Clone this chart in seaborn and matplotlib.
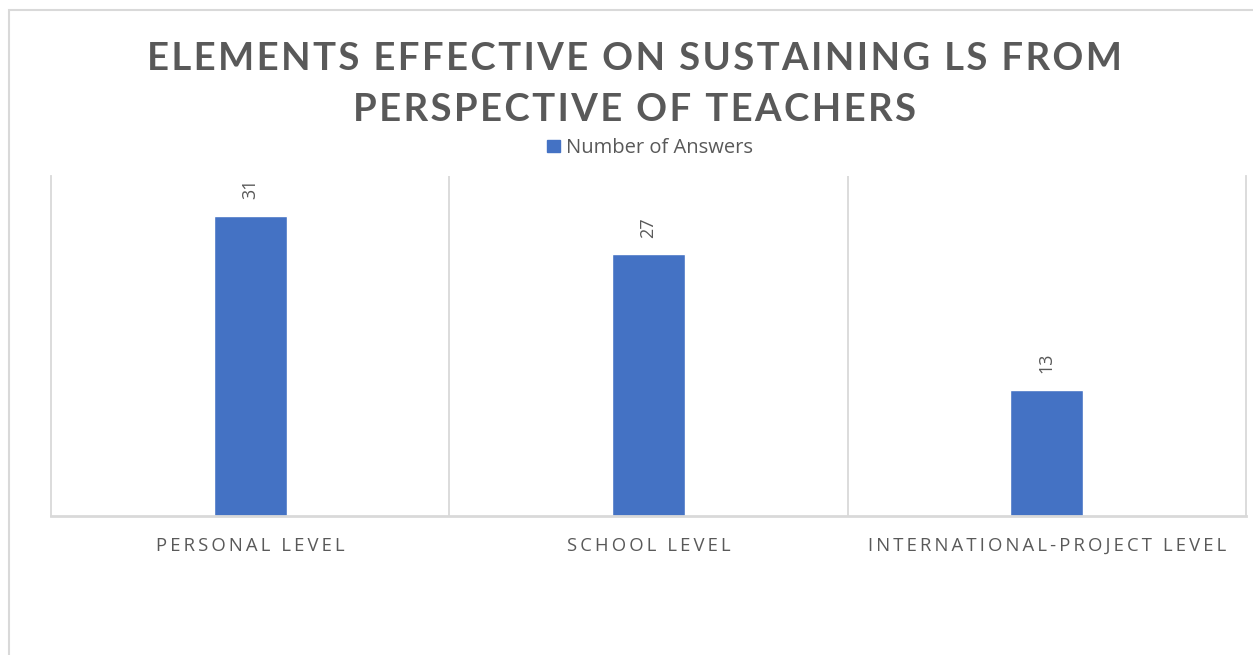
import matplotlib
matplotlib.use("Agg")
import matplotlib.pyplot as plt
import seaborn as sns
import pandas as pd

categories = ["PERSONAL LEVEL", "SCHOOL LEVEL", "INTERNATIONAL-PROJECT LEVEL"]
values = [31, 27, 13]
series_name = "Number of Answers"
title_lines = ["ELEMENTS EFFECTIVE ON SUSTAINING LS FROM", "PERSPECTIVE OF TEACHERS"]

BLUE = "#4472C4"
GRID = "#D9D9D9"
TXT = "#595959"

def spaced(s, sep="\u2009"):
    return sep.join(s)

sns.set_theme(style="white")
plt.rcParams['font.family'] = ['Open Sans', 'DejaVu Sans']

df = pd.DataFrame({"category": categories, "value": values, "series": series_name})

fig = plt.figure(figsize=(12.53, 6.55), dpi=100)
ax = fig.add_axes([51/1253, 1 - 516/655, (1246-51)/1253, (516-176)/655])

sns.barplot(data=df, x="category", y="value", hue="series", palette=[BLUE],
            width=0.183, ax=ax, legend=False, saturation=1)

ax.set_ylim(0, 35.1)
ax.set_xlim(-0.5, 2.5)
ax.set_yticks([])
ax.set_xlabel("")
ax.set_ylabel("")
for x in [0.5, 1.5]:
    ax.axvline(x, color=GRID, lw=1.3, zorder=0)
ax.spines["top"].set_visible(False)
for side in ["left", "right", "bottom"]:
    ax.spines[side].set_color(GRID)
    ax.spines[side].set_linewidth(1.3)
ax.spines["bottom"].set_linewidth(2)

ax.set_xticks(range(len(categories)))
ax.set_xticklabels([spaced(c) for c in categories], fontsize=13.3, color=TXT)
ax.tick_params(axis="x", length=0, pad=15)

for i, v in enumerate(values):
    ax.annotate(str(v), (i, v), xytext=(0, 12), textcoords="offset points",
                rotation=90, ha="center", va="bottom", fontsize=13, color=TXT)

# title
title_family = ['Lato', 'DejaVu Sans']
fig.text(635/1253, 1 - 59/655, spaced(title_lines[0], "\u200a"), ha="center", va="center",
         fontsize=27.5, fontweight="bold", color=TXT, family=title_family)
fig.text(635/1253, 1 - 110/655, spaced(title_lines[1], "\u200a"), ha="center", va="center",
         fontsize=27.5, fontweight="bold", color=TXT, family=title_family)

# legend
from matplotlib.patches import Patch
handles = [Patch(facecolor=BLUE, edgecolor=BLUE, label=series_name)]
fig.legend(handles=handles, loc="center", bbox_to_anchor=(650/1253, 1 - 148/655),
           frameon=False, fontsize=14.5, handlelength=0.6, handleheight=0.6,
           handletextpad=0.3, labelcolor=TXT)

# outer chart border
from matplotlib.patches import Rectangle
fig.patches.append(Rectangle((9/1253, -0.1), 1.2, 1 - 10/655 + 0.1, transform=fig.transFigure,
                             fill=False, edgecolor=GRID, lw=1.5))

fig.savefig("out.png", dpi=100, facecolor="white")
